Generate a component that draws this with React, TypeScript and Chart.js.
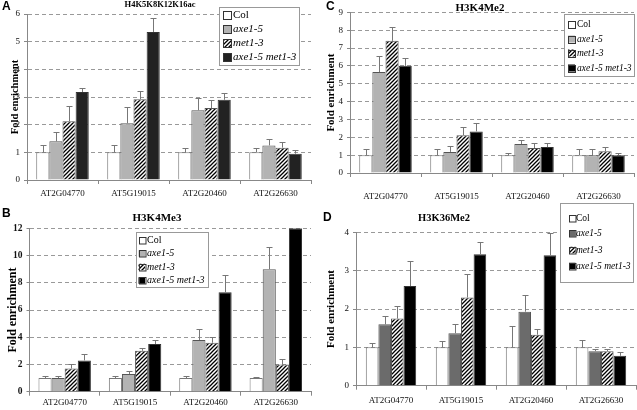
import React, { useEffect, useRef } from "react";
import { Chart, registerables } from "chart.js";
Chart.register(...registerables);

const categories = ["AT2G04770", "AT5G19015", "AT2G20460", "AT2G26630"];
const seriesLabels = ["Col", "axe1-5", "met1-3", "axe1-5 met1-3"];
const yAxisTitle = "Fold enrichment";

// Panel A: H4K5K8K12K16ac
const aTitle = "H4K5K8K12K16ac";
const aCol = [1.0, 1.0, 1.0, 1.0];
const aColErr = [0.25, 0.27, 0.14, 0.14];
const aAxe = [1.4, 2.05, 2.52, 1.25];
const aAxeErr = [0.33, 0.6, 0.44, 0.25];
const aMet = [2.12, 2.92, 2.6, 1.17];
const aMetErr = [0.57, 0.3, 0.29, 0.19];
const aDbl = [3.18, 5.35, 2.9, 0.95];
const aDblErr = [0.16, 0.52, 0.26, 0.15];

// Panel B: H3K4Me3
const bTitle = "H3K4Me3";
const bCol = [1.0, 1.0, 1.0, 1.0];
const bColErr = [0.18, 0.18, 0.18, 0.05];
const bAxe = [1.0, 1.3, 3.8, 9.0];
const bAxeErr = [0.18, 0.19, 0.8, 1.6];
const bMet = [1.7, 3.0, 3.6, 2.0];
const bMetErr = [0.33, 0.18, 0.4, 0.38];
const bDbl = [2.3, 3.5, 7.3, 12.0];
const bDblErr = [0.44, 0.28, 1.3, 0];

// Panel C: H3K4Me2
const cTitle = "H3K4Me2";
const cCol = [1.0, 1.0, 1.0, 1.0];
const cColErr = [0.33, 0.33, 0.1, 0.33];
const cAxe = [5.65, 1.18, 1.62, 1.0];
const cAxeErr = [0.91, 0.33, 0.23, 0.33];
const cMet = [7.4, 2.12, 1.4, 1.22];
const cMetErr = [0.76, 0.44, 0.26, 0.24];
const cDbl = [6.0, 2.33, 1.45, 1.0];
const cDblErr = [0.43, 0.45, 0.21, 0.14];

// Panel D: H3K36Me2
const dTitle = "H3K36Me2";
const dCol = [1.0, 1.0, 1.0, 1.0];
const dColErr = [0.12, 0.16, 0.55, 0.18];
const dAxe = [1.6, 1.37, 1.93, 0.9];
const dAxeErr = [0.23, 0.23, 0.44, 0.06];
const dMet = [1.75, 2.3, 1.33, 0.9];
const dMetErr = [0.33, 0.6, 0.15, 0.06];
const dDbl = [2.6, 3.43, 3.4, 0.78];
const dDblErr = [0.64, 0.31, 0.57, 0.1];

const SERIF = '"Liberation Serif", "Times New Roman", serif';
const SANS = '"Liberation Sans", Arial, sans-serif';

type Panel = {
  letter: string;
  title: string;
  titleSize: number;
  titleX: number;
  titleY: number;
  letterX: number;
  letterY: number;
  canvas: { x: number; y: number; w: number; h: number };
  area: { l: number; t: number; r: number; b: number };
  max: number;
  step: number;
  values: number[][];
  errors: number[][];
  axeColor: string;
  dblColor: string;
  yTitleSize: number;
  yTitlePad: number;
  tickBold: boolean;
  xPad: number;
  catPct: number;
  legend: { x: number; y: number; w: number; h: number; rows: number[]; swX: number; sw: number; textX: number; font: number };
};

const panels: Panel[] = [
  {
    letter: "A", title: aTitle, titleSize: 8.5, titleX: 160, titleY: 5, letterX: 2, letterY: 7,
    canvas: { x: 0, y: 0, w: 318, h: 205 }, area: { l: 27, t: 14, r: 311, b: 180 },
    max: 6, step: 1,
    values: [aCol, aAxe, aMet, aDbl], errors: [aColErr, aAxeErr, aMetErr, aDblErr],
    axeColor: "#b3b3b3", dblColor: "#222222", yTitleSize: 10.5, yTitlePad: 8.5, tickBold: false, xPad: 4.5, catPct: 0.74,
    legend: { x: 219, y: 7, w: 80, h: 58, rows: [15, 29, 43, 57], swX: 223, sw: 8, textX: 233, font: 11 },
  },
  {
    letter: "C", title: cTitle, titleSize: 11, titleX: 480, titleY: 8, letterX: 326, letterY: 7,
    canvas: { x: 318, y: 0, w: 319, h: 205 }, area: { l: 350, t: 12.3, r: 634, b: 173 },
    max: 9, step: 1,
    values: [cCol, cAxe, cMet, cDbl], errors: [cColErr, cAxeErr, cMetErr, cDblErr],
    axeColor: "#b3b3b3", dblColor: "#000000", yTitleSize: 11, yTitlePad: 6.4, tickBold: false, xPad: 14, catPct: 0.74,
    legend: { x: 564, y: 14, w: 70, h: 62, rows: [24, 39, 53, 68], swX: 568, sw: 7, textX: 577, font: 9.5 },
  },
  {
    letter: "B", title: bTitle, titleSize: 11, titleX: 157, titleY: 218, letterX: 2, letterY: 214,
    canvas: { x: 0, y: 200, w: 318, h: 210 }, area: { l: 29.5, t: 228.3, r: 311, b: 391.7 },
    max: 12, step: 2,
    values: [bCol, bAxe, bMet, bDbl], errors: [bColErr, bAxeErr, bMetErr, bDblErr],
    axeColor: "#b3b3b3", dblColor: "#000000", yTitleSize: 12, yTitlePad: 6, tickBold: true, xPad: 1.5, catPct: 0.745,
    legend: { x: 136, y: 232, w: 72, h: 55, rows: [240, 253.5, 267, 280.5], swX: 138.5, sw: 6.5, textX: 147, font: 10 },
  },
  {
    letter: "D", title: dTitle, titleSize: 10.5, titleX: 444, titleY: 218, letterX: 323, letterY: 218,
    canvas: { x: 318, y: 200, w: 319, h: 210 }, area: { l: 356, t: 232.3, r: 636, b: 385.7 },
    max: 4, step: 1,
    values: [dCol, dAxe, dMet, dDbl], errors: [dColErr, dAxeErr, dMetErr, dDblErr],
    axeColor: "#6b6b6b", dblColor: "#000000", yTitleSize: 11, yTitlePad: 6.4, tickBold: false, xPad: 6, catPct: 0.72,
    legend: { x: 560, y: 203, w: 73, h: 79, rows: [218, 233.5, 250, 266], swX: 569, sw: 6.5, textX: 576, font: 9.5 },
  },
];

function makeHatch(): CanvasPattern | string {
  const c = document.createElement("canvas");
  c.width = 4;
  c.height = 4;
  const g = c.getContext("2d");
  if (!g) return "#888";
  g.fillStyle = "#ffffff";
  g.fillRect(0, 0, 4, 4);
  g.strokeStyle = "#000000";
  g.lineWidth = 1.3;
  g.beginPath();
  g.moveTo(0, 4);
  g.lineTo(4, 0);
  g.moveTo(-1, 1);
  g.lineTo(1, -1);
  g.moveTo(3, 5);
  g.lineTo(5, 3);
  g.stroke();
  return g.createPattern(c, "repeat") || "#888";
}

function PanelChart({ p }: { p: Panel }) {
  const ref = useRef<HTMLCanvasElement | null>(null);
  useEffect(() => {
    if (!ref.current) return;
    const hatch = makeHatch();
    const fills: any[] = ["#ffffff", p.axeColor, hatch, p.dblColor];
    const borders = ["#777777", "#555555", "#555555", "#333333"];
    const ox = p.canvas.x;
    const oy = p.canvas.y;
    const yWidth = p.area.l - ox;
    const xHeight = oy + p.canvas.h - p.area.b;

    const decor = {
      id: "decor" + p.letter,
      afterDatasetsDraw(chart: any) {
        const ctx = chart.ctx;
        const ys = chart.scales.y;
        const a = chart.chartArea;
        ctx.save();
        ctx.beginPath();
        ctx.rect(a.left, a.top - 1, a.right - a.left, a.bottom - a.top + 1);
        ctx.clip();
        ctx.strokeStyle = "#777777";
        ctx.lineWidth = 1;
        chart.data.datasets.forEach((ds: any, i: number) => {
          const meta = chart.getDatasetMeta(i);
          meta.data.forEach((el: any, j: number) => {
            const v = ds.data[j];
            const e = ds.errors[j];
            if (!e) return;
            const x = Math.round(el.x) + 0.5;
            const y0 = ys.getPixelForValue(v);
            const y1 = Math.round(ys.getPixelForValue(v + e)) + 0.5;
            ctx.beginPath();
            ctx.moveTo(x, y0);
            ctx.lineTo(x, y1);
            ctx.moveTo(x - 3, y1);
            ctx.lineTo(x + 3, y1);
            ctx.stroke();
          });
        });
        ctx.restore();
      },
      afterDraw(chart: any) {
        const ctx = chart.ctx;
        const L = p.legend;
        ctx.save();
        // legend box
        ctx.fillStyle = "#ffffff";
        ctx.fillRect(L.x - ox, L.y - oy, L.w, L.h);
        ctx.strokeStyle = "#999999";
        ctx.lineWidth = 1;
        ctx.strokeRect(Math.round(L.x - ox) + 0.5, Math.round(L.y - oy) + 0.5, L.w, L.h);
        chart.data.datasets.forEach((ds: any, i: number) => {
          const cy = L.rows[i] - oy;
          const sx = L.swX - ox;
          ctx.fillStyle = ds.backgroundColor;
          ctx.fillRect(sx, cy - L.sw / 2, L.sw, L.sw);
          ctx.strokeStyle = "#333333";
          ctx.strokeRect(Math.round(sx) + 0.5, Math.round(cy - L.sw / 2) + 0.5, L.sw, L.sw);
          ctx.fillStyle = "#000000";
          ctx.font = (i === 0 ? "" : "italic ") + L.font + "px " + SERIF;
          ctx.textAlign = "left";
          ctx.textBaseline = "middle";
          ctx.fillText(ds.label, L.textX - ox, cy);
        });
        // panel title
        ctx.fillStyle = "#000000";
        ctx.font = "bold " + p.titleSize + "px " + SERIF;
        ctx.textAlign = "center";
        ctx.textBaseline = "middle";
        ctx.fillText(p.title, p.titleX - ox, p.titleY - oy);
        // panel letter
        ctx.font = "bold 12px " + SANS;
        ctx.textAlign = "left";
        ctx.fillText(p.letter, p.letterX - ox, p.letterY - oy);
        ctx.restore();
      },
    };

    const chart = new Chart(ref.current, {
      type: "bar",
      data: {
        labels: categories,
        datasets: seriesLabels.map((label, i) => ({
          label,
          data: p.values[i],
          errors: p.errors[i],
          backgroundColor: fills[i],
          borderColor: borders[i],
          borderWidth: 1,
          categoryPercentage: p.catPct,
          barPercentage: 1.0,
        })) as any,
      },
      options: {
        responsive: false,
        animation: false,
        events: [],
        layout: {
          padding: { left: 0, top: p.area.t - oy, right: ox + p.canvas.w - p.area.r, bottom: 0 },
        },
        plugins: {
          legend: { display: false },
          title: { display: false },
          tooltip: { enabled: false },
        },
        scales: {
          x: {
            type: "category",
            offset: true,
            grid: {
              offset: true,
              drawOnChartArea: false,
              drawTicks: true,
              tickLength: 4,
              color: "#888888",
              tickColor: "#888888",
            },
            border: { display: true, color: "#888888", width: 1 },
            ticks: {
              color: "#111111",
              font: { family: SERIF, size: 9 },
              padding: p.xPad,
              maxRotation: 0,
              minRotation: 0,
              autoSkip: false,
            },
            afterFit: (s: any) => {
              s.height = xHeight;
            },
          },
          y: {
            min: 0,
            max: p.max,
            ticks: {
              stepSize: p.step,
              color: "#111111",
              font: { family: SERIF, size: p.tickBold ? 9.5 : 9, weight: p.tickBold ? "bold" : "normal" },
              padding: 4,
            },
            grid: {
              color: "#999999",
              drawTicks: true,
              tickLength: 3,
              tickColor: "#888888",
              tickBorderDash: [],
            },
            border: { display: true, color: "#888888", width: 1, dash: [4, 3] },
            title: {
              display: true,
              text: yAxisTitle,
              color: "#000000",
              font: { family: SERIF, size: p.yTitleSize, weight: "bold" },
              padding: { top: p.yTitlePad, bottom: 0 },
            },
            afterFit: (s: any) => {
              s.width = yWidth;
            },
          },
        },
      } as any,
      plugins: [decor as any],
    });
    return () => chart.destroy();
  }, [p]);

  return (
    <canvas
      ref={ref}
      width={p.canvas.w}
      height={p.canvas.h}
      style={{ position: "absolute", left: p.canvas.x, top: p.canvas.y, width: p.canvas.w, height: p.canvas.h }}
    />
  );
}

export default function App() {
  return (
    <div style={{ position: "fixed", left: 0, top: 0, width: 637, height: 410, background: "#ffffff", overflow: "hidden" }}>
      {panels.map((p) => (
        <PanelChart key={p.letter} p={p} />
      ))}
    </div>
  );
}
